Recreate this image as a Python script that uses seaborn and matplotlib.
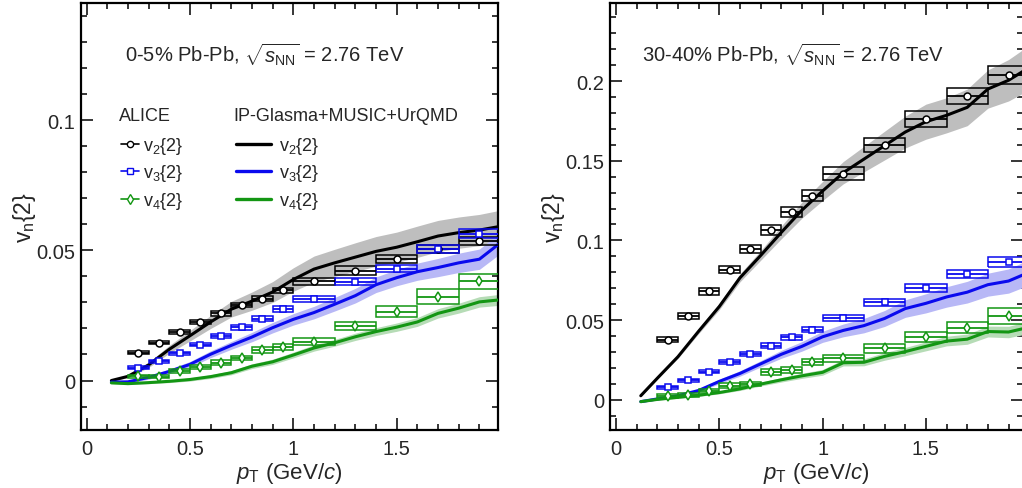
import numpy as np
import matplotlib
matplotlib.use("Agg")
import matplotlib.pyplot as plt
import seaborn as sns
import pandas as pd
from matplotlib.patches import Rectangle
from matplotlib.lines import Line2D
from matplotlib.ticker import MultipleLocator, FuncFormatter

# ---------------- data ----------------
pt_lo = [0.2, 0.3, 0.4, 0.5, 0.6, 0.7, 0.8, 0.9, 1.0, 1.2, 1.4, 1.6, 1.8]
pt_hi = [0.3, 0.4, 0.5, 0.6, 0.7, 0.8, 0.9, 1.0, 1.2, 1.4, 1.6, 1.8, 2.0]
pt_c = [0.25, 0.35, 0.45, 0.55, 0.65, 0.75, 0.85, 0.95, 1.1, 1.3, 1.5, 1.7, 1.9]

# 0-5% ALICE
c_v2 = [0.0106, 0.0145, 0.0186, 0.0224, 0.0258, 0.0290, 0.0315, 0.0346, 0.0381, 0.0422, 0.0467, 0.0504, 0.0536]
c_v2_sys = [0.0006, 0.0006, 0.0007, 0.0008, 0.0009, 0.0009, 0.0010, 0.0010, 0.0013, 0.0017, 0.0016, 0.0015, 0.0015]
c_v3 = [0.0049, 0.0074, 0.0104, 0.0138, 0.0171, 0.0204, 0.0238, 0.0274, 0.0314, 0.0380, 0.0430, 0.0504, 0.0564]
c_v3_sys = [0.0005, 0.0006, 0.0006, 0.0007, 0.0008, 0.0009, 0.0010, 0.0011, 0.0012, 0.0013, 0.0014, 0.0015, 0.0017]
c_v4 = [0.0017, 0.0015, 0.0037, 0.0053, 0.0069, 0.0087, 0.0117, 0.0128, 0.0149, 0.0209, 0.0264, 0.0322, 0.0381]
c_v4_sys = [0.0006, 0.0006, 0.0007, 0.0008, 0.0009, 0.0009, 0.0010, 0.0011, 0.0013, 0.0016, 0.0021, 0.0028, 0.0030]
c_stat = [0.0002, 0.0002, 0.0002, 0.0002, 0.0002, 0.0002, 0.0003, 0.0003, 0.0003, 0.0004, 0.0005, 0.0006, 0.0008]

# 30-40% ALICE
r_v2 = [0.0377, 0.0527, 0.0680, 0.0816, 0.0946, 0.1065, 0.1180, 0.1280, 0.1418, 0.1598, 0.1762, 0.1906, 0.2038]
r_v2_sys = [0.0016, 0.0018, 0.0020, 0.0023, 0.0026, 0.0029, 0.0032, 0.0035, 0.0040, 0.0042, 0.0049, 0.0053, 0.0054]
r_v3 = [0.0077, 0.0121, 0.0176, 0.0237, 0.0289, 0.0339, 0.0391, 0.0439, 0.0513, 0.0611, 0.0699, 0.0789, 0.0864]
r_v3_sys = [0.0009, 0.0010, 0.0011, 0.0012, 0.0013, 0.0014, 0.0015, 0.0016, 0.0020, 0.0023, 0.0026, 0.0027, 0.0029]
r_v4 = [0.0025, 0.0031, 0.0057, 0.0088, 0.0099, 0.0174, 0.0186, 0.0235, 0.0259, 0.0322, 0.0391, 0.0452, 0.0527]
r_v4_sys = [0.0012, 0.0012, 0.0013, 0.0014, 0.0015, 0.0018, 0.0018, 0.0019, 0.0023, 0.0028, 0.0031, 0.0036, 0.0050]
r_stat = [0.0003, 0.0003, 0.0003, 0.0003, 0.0003, 0.0004, 0.0004, 0.0004, 0.0005, 0.0006, 0.0007, 0.0008, 0.0010]

# IP-Glasma+MUSIC+UrQMD model
pt_m = [0.12, 0.2, 0.3, 0.4, 0.5, 0.6, 0.7, 0.8, 0.9, 1.0, 1.1, 1.2, 1.3, 1.4, 1.5, 1.6, 1.7, 1.8, 1.9, 2.0]

m_c_v2 = [0.0, 0.0016, 0.0060, 0.0120, 0.0172, 0.0225, 0.0274, 0.0305, 0.0340, 0.0388, 0.0428, 0.0452, 0.0474, 0.0496, 0.0512, 0.0533, 0.0555, 0.0568, 0.0578, 0.0592]
m_c_v2_err = [0.0003, 0.0005, 0.0010, 0.0015, 0.0020, 0.0025, 0.0030, 0.0035, 0.0040, 0.0045, 0.0050, 0.0052, 0.0055, 0.0057, 0.0058, 0.0060, 0.0060, 0.0060, 0.0060, 0.0062]
m_c_v3 = [-0.0006, -0.0005, 0.0012, 0.0035, 0.0062, 0.0101, 0.0135, 0.0167, 0.0203, 0.0235, 0.0261, 0.0293, 0.0326, 0.0368, 0.0395, 0.0418, 0.0434, 0.0452, 0.0466, 0.0528]
m_c_v3_err = [0.0004, 0.0005, 0.0007, 0.0009, 0.0011, 0.0013, 0.0015, 0.0018, 0.0020, 0.0022, 0.0024, 0.0026, 0.0028, 0.0030, 0.0031, 0.0033, 0.0035, 0.0037, 0.0039, 0.0041]
m_c_v4 = [-0.0009, -0.0012, -0.0008, -0.0003, 0.0004, 0.0015, 0.0030, 0.0055, 0.0072, 0.0098, 0.0125, 0.0145, 0.0168, 0.0188, 0.0205, 0.0225, 0.0258, 0.0278, 0.0302, 0.0310]
m_c_v4_err = [0.0003, 0.0003, 0.0004, 0.0005, 0.0006, 0.0007, 0.0008, 0.0009, 0.0010, 0.0011, 0.0012, 0.0013, 0.0014, 0.0015, 0.0016, 0.0017, 0.0018, 0.0019, 0.0020, 0.0021]

m_r_v2 = [0.0025, 0.0135, 0.0270, 0.0430, 0.0585, 0.0765, 0.0905, 0.1050, 0.1190, 0.1310, 0.1425, 0.1510, 0.1595, 0.1680, 0.1745, 0.1785, 0.1835, 0.1950, 0.2005, 0.2085]
m_r_v2_err = [0.0005, 0.0007, 0.0010, 0.0015, 0.0020, 0.0025, 0.0030, 0.0040, 0.0050, 0.0060, 0.0070, 0.0080, 0.0090, 0.0100, 0.0110, 0.0110, 0.0115, 0.0120, 0.0130, 0.0140]
m_r_v3 = [-0.0012, 0.0005, 0.0025, 0.0058, 0.0115, 0.0165, 0.0225, 0.0285, 0.0335, 0.0395, 0.0435, 0.0465, 0.0510, 0.0572, 0.0605, 0.0645, 0.0675, 0.0722, 0.0745, 0.0800]
m_r_v3_err = [0.0004, 0.0006, 0.0008, 0.0011, 0.0014, 0.0017, 0.0020, 0.0025, 0.0030, 0.0035, 0.0040, 0.0045, 0.0050, 0.0055, 0.0060, 0.0064, 0.0068, 0.0072, 0.0076, 0.0080]
m_r_v4 = [-0.0012, 0.0002, 0.0015, 0.0028, 0.0045, 0.0068, 0.0098, 0.0125, 0.0150, 0.0172, 0.0232, 0.0235, 0.0272, 0.0302, 0.0335, 0.0368, 0.0380, 0.0428, 0.0425, 0.0455]
m_r_v4_err = [0.0004, 0.0005, 0.0006, 0.0007, 0.0008, 0.0010, 0.0012, 0.0014, 0.0016, 0.0018, 0.0020, 0.0022, 0.0024, 0.0026, 0.0028, 0.0030, 0.0032, 0.0034, 0.0036, 0.0038]

labels = [r"v$_{2}${2}", r"v$_{3}${2}", r"v$_{4}${2}"]
legend_titles = ["ALICE", "IP-Glasma+MUSIC+UrQMD"]

# ---------------- style ----------------
sns.set_theme(style="ticks")
plt.rcParams["font.family"] = ["Liberation Sans", "DejaVu Sans"]
plt.rcParams["mathtext.fontset"] = "custom"
plt.rcParams["mathtext.rm"] = "Liberation Sans"
plt.rcParams["mathtext.it"] = "Liberation Sans:italic"
plt.rcParams["mathtext.bf"] = "Liberation Sans:bold"

BLACK = "#000000"
BLUE = "#0a0aee"
GREEN = "#139613"
BAND = ["#bebebe", "#b8b8f6", "#b6dcb6"]
COLORS = [BLACK, BLUE, GREEN]
MARKERS = ["o", "s", "d"]
MS = [5.0, 4.6, 5.2]

fig = plt.figure(figsize=(10.22, 4.89), dpi=100)
axL = fig.add_axes([81 / 1022, 58 / 489, 417 / 1022, 427 / 489])
axR = fig.add_axes([610 / 1022, 58 / 489, 413 / 1022, 427 / 489])


def draw_panel(ax, model, data, stat):
    for (y, e), bc in zip(model, BAND):
        y = np.asarray(y); e = np.asarray(e)
        ax.fill_between(pt_m, y - e, y + e, color=bc, lw=0, zorder=1)
    for (y, e), c in zip(model, COLORS):
        df = pd.DataFrame({"pt": pt_m, "v": y})
        sns.lineplot(data=df, x="pt", y="v", ax=ax, color=c, lw=2.2, zorder=3,
                     legend=False, estimator=None, sort=False)
    lo = np.asarray(pt_lo); hi = np.asarray(pt_hi); pc = np.asarray(pt_c)
    for (v, s), c, m, ms in zip(data, COLORS, MARKERS, MS):
        for l, h, vv, ss in zip(lo, hi, v, s):
            ax.add_patch(Rectangle((l, vv - ss), h - l, 2 * ss, fill=False,
                                   ec=c, lw=1.1, zorder=4))
        ax.errorbar(pc, v, xerr=[pc - lo, hi - pc], yerr=stat, fmt=m, color=c,
                    mfc="white", mec=c, mew=1.1, ms=ms, elinewidth=1.3,
                    capsize=0, zorder=5)


def style_axes(ax, ylim, ymajor, xlim):
    ax.set_xlim(*xlim)
    ax.set_ylim(*ylim)
    ax.xaxis.set_major_locator(MultipleLocator(0.5))
    ax.xaxis.set_minor_locator(MultipleLocator(0.1))
    ax.yaxis.set_major_locator(MultipleLocator(ymajor))
    ax.yaxis.set_minor_locator(MultipleLocator(0.01))
    fmt = FuncFormatter(lambda v, p: f"{v:g}" if abs(v) > 1e-9 else "0")
    ax.xaxis.set_major_formatter(fmt)
    ax.yaxis.set_major_formatter(fmt)
    ax.tick_params(which="both", direction="in", top=True, right=True,
                   color="black", width=1.1)
    ax.tick_params(which="major", length=8.5, labelsize=14.5)
    ax.tick_params(which="minor", length=4.3)
    ax.tick_params(axis="x", which="major", pad=6.5)
    ax.tick_params(axis="y", which="major", pad=4)
    for sp in ax.spines.values():
        sp.set_linewidth(1.6)
        sp.set_color("black")
        sp.set_visible(True)
    ax.set_xlabel(r"$p_{\mathrm{T}}$ (GeV/$c$)", fontsize=16, labelpad=1.5)
    ax.set_ylabel(r"v$_{\mathrm{n}}${2}", fontsize=16.5, labelpad=-1)


draw_panel(axL,
           [(m_c_v2, m_c_v2_err), (m_c_v3, m_c_v3_err), (m_c_v4, m_c_v4_err)],
           [(c_v2, c_v2_sys), (c_v3, c_v3_sys), (c_v4, c_v4_sys)], c_stat)
draw_panel(axR,
           [(m_r_v2, m_r_v2_err), (m_r_v3, m_r_v3_err), (m_r_v4, m_r_v4_err)],
           [(r_v2, r_v2_sys), (r_v3, r_v3_sys), (r_v4, r_v4_sys)], r_stat)

style_axes(axL, (-0.019, 0.145), 0.05, (-0.027, 1.99))
style_axes(axR, (-0.019, 0.249), 0.05, (-0.029, 1.97))

axL.text(0.1055, 0.8635, r"0-5% Pb-Pb, $\sqrt{s_{\mathrm{NN}}}$ = 2.76 TeV",
         transform=axL.transAxes, fontsize=14.5, va="baseline", ha="left")
axR.text(0.0777, 0.8635, r"30-40% Pb-Pb, $\sqrt{s_{\mathrm{NN}}}$ = 2.76 TeV",
         transform=axR.transAxes, fontsize=14.5, va="baseline", ha="left")

# legend titles
axL.text(0.0911, 0.726, legend_titles[0], transform=axL.transAxes,
         fontsize=13, va="baseline", ha="left")
axL.text(0.3645, 0.726, legend_titles[1], transform=axL.transAxes,
         fontsize=13, va="baseline", ha="left")

# legends
h_data = [Line2D([], [], color=c, marker=m, mfc="white", mec=c, ms=ms * 0.9, lw=1.2)
          for c, m, ms in zip(COLORS, MARKERS, MS)]
h_model = [Line2D([], [], color=c, lw=2.4) for c in COLORS]
leg1 = axL.legend(h_data, labels, loc="upper left",
                  bbox_to_anchor=(0.096, 0.691), frameon=False, fontsize=13,
                  handlelength=1.0, handletextpad=0.22, labelspacing=0.36,
                  borderpad=0, borderaxespad=0)
axL.add_artist(leg1)
axL.legend(h_model, labels, loc="upper left",
           bbox_to_anchor=(0.372, 0.691), frameon=False, fontsize=13,
           handlelength=1.94, handletextpad=0.44, labelspacing=0.36,
           borderpad=0, borderaxespad=0)

fig.savefig("out.png", dpi=100)
